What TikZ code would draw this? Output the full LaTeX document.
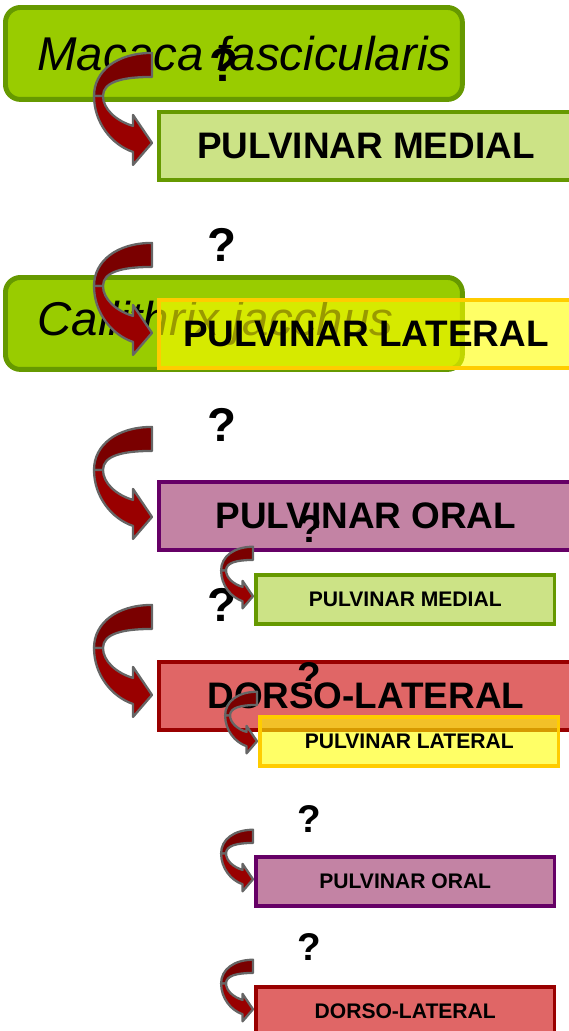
\documentclass[tikz,border=0pt]{standalone}
\usepackage{fontspec}
\setmainfont{Liberation Sans}
\usepackage{xcolor}
\usetikzlibrary{calc}

\definecolor{specfill}{HTML}{99CC00}
\definecolor{specline}{HTML}{669900}
\definecolor{medfill}{HTML}{CCE386}
\definecolor{medline}{HTML}{669900}
\definecolor{latfill}{HTML}{FFFF00}
\definecolor{latline}{HTML}{FFCC00}
\definecolor{orfill}{HTML}{C383A4}
\definecolor{orline}{HTML}{660066}
\definecolor{dlfill}{HTML}{E06666}
\definecolor{dlline}{HTML}{990000}
\definecolor{arrowback}{HTML}{7A0000}
\definecolor{arrowfront}{HTML}{990000}
\definecolor{arrowline}{HTML}{666666}

\begin{document}
\begin{tikzpicture}[
    x=0.02cm, y=-0.02cm,
    species/.style={
        draw=specline,
        fill=specfill,
        line width=2.8pt,
        rounded corners=0.3cm,
        minimum height=1.84cm,
        inner xsep=0.64cm,
        anchor=north west,
        font=\fontsize{27}{32}\selectfont\itshape
    },
    region/.style={
        draw,
        line width=2.2pt,
        minimum width=8.28cm,
        minimum height=1.36cm,
        anchor=north west,
        font=\fontsize{21}{25}\selectfont\bfseries
    },
    subregion/.style={
        region,
        line width=2pt,
        minimum width=5.98cm,
        minimum height=0.98cm,
        font=\fontsize{12}{14}\selectfont\bfseries
    },
    medial/.style={fill=medfill, draw=medline},
    lateral/.style={fill=latfill, fill opacity=0.6, text opacity=1, draw=latline, draw opacity=1},
    oral/.style={fill=orfill, draw=orline},
    dorsal/.style={fill=dlfill, draw=dlline},
    query/.style={inner sep=0pt, font=\fontsize{27}{32}\selectfont\bfseries},
    subquery/.style={inner sep=0pt, font=\fontsize{22}{26}\selectfont\bfseries},
    bendarrow/.pic={
        \filldraw[draw=arrowline, fill=arrowback, line width=1.3pt, line join=round]
            (0,-90) .. controls (-35,-90) and (-58,-72) .. (-58,-47)
            -- (-49,-47) .. controls (-49,-61) and (-30,-66) .. (0,-66) -- cycle;
        \filldraw[draw=arrowline, fill=arrowfront, line width=1.3pt, line join=round]
            (-58,-47) .. controls (-58,-20) and (-40,2) .. (-19,9)
            -- (-19,22) -- (0,0) -- (-19,-28) -- (-19,-17)
            .. controls (-36,-22) and (-49,-34) .. (-49,-47) -- cycle;
    }
]
\useasboundingbox (0,0) rectangle (568,1031);

% first species
\node[species] (mf) at (3,5) {\makebox[7.86cm][l]{Macaca fascicularis}};
\node[region, medial] (pm) at (157,110) {PULVINAR MEDIAL};
\pic at ($(pm.west)+(-5,-3)$) {bendarrow};
\node[query] (q1) at (224,65) {?};

% second species
\node[query] (q2) at (222,245) {?};
\node[species] (cj) at (3,275) {\makebox[7.86cm][l]{Callithrix jacchus}};
\node[region, lateral] (pl) at (157,298) {PULVINAR LATERAL};
\pic at ($(pl.west)+(-5,-1)$) {bendarrow};

\node[query] (q3) at (222,425) {?};
\node[region, oral] (po) at (157,480) {PULVINAR ORAL};
\pic at ($(po.west)+(-5,1)$) {bendarrow};
\node[subquery] (q4) at (310,529) {?};

\node[query] (q5) at (222,605) {?};
\node[subregion, medial] (spm) at (254,573) {PULVINAR MEDIAL};
\pic[scale=0.55] at ($(spm.west)+(-1,-3)$) {bendarrow};

\node[region, dorsal] (dl) at (157,660) {DORSO-LATERAL};
\pic at ($(dl.west)+(-5,-1)$) {bendarrow};
\node[subquery] (q6) at (309,676) {?};
\node[subregion, lateral] (spl) at (258,715) {PULVINAR LATERAL};
\pic[scale=0.55] at ($(spl.west)+(-1,0)$) {bendarrow};

\node[subquery] (q7) at (309,819) {?};
\node[subregion, oral] (spo) at (254,855) {PULVINAR ORAL};
\pic[scale=0.55] at ($(spo.west)+(-1,-2)$) {bendarrow};

\node[subquery] (q8) at (309,947) {?};
\node[subregion, dorsal] (sdl) at (254,985) {DORSO-LATERAL};
\pic[scale=0.55] at ($(sdl.west)+(-1,-2)$) {bendarrow};

\end{tikzpicture}
\end{document}
